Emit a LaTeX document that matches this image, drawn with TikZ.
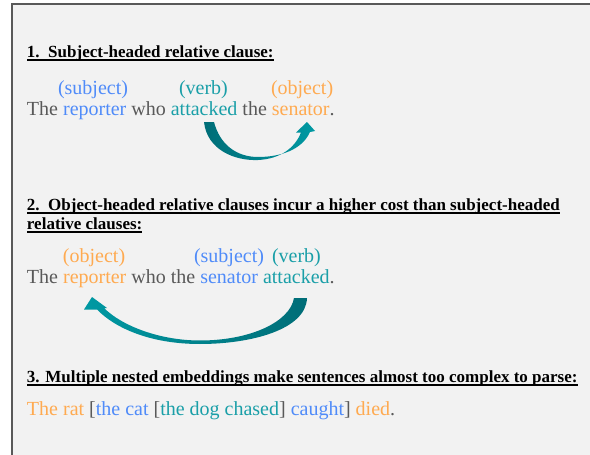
\documentclass[tikz,border=0pt]{standalone}
\usepackage{fontspec}
\setmainfont{Liberation Serif}
\definecolor{panel}{HTML}{F2F2F2}
\definecolor{framec}{HTML}{595959}
\definecolor{tgray}{HTML}{595959}
\definecolor{tblue}{HTML}{4F8BF9}
\definecolor{tteal}{HTML}{1A9FA8}
\definecolor{torange}{HTML}{FFAA50}
\definecolor{arrlight}{HTML}{0099A3}
\definecolor{arrdark}{HTML}{006D77}
\newcommand{\B}[1]{\textcolor{tblue}{#1}}
\newcommand{\T}[1]{\textcolor{tteal}{#1}}
\newcommand{\Or}[1]{\textcolor{torange}{#1}}
\begin{document}
\begin{tikzpicture}[x=1pt,y=-1pt,
  txt/.style={anchor=base west,inner sep=0pt,outer sep=0pt},
  head/.style={txt,font=\fontsize{17}{19}\selectfont\bfseries,text=black},
  sent/.style={txt,font=\fontsize{20}{22}\selectfont,text=tgray},
  lab/.style={txt,font=\fontsize{20}{22}\selectfont},
  uline/.style={line width=1.6pt,black},
  swoosh/.style={draw=none}]
\useasboundingbox (0,0) rectangle (590,455);
\fill[white] (0,0) rectangle (590,455);
\fill[panel] (11,3) rectangle (590,455);
\draw[framec,line width=2.4pt] (12.2,455) -- (12.2,4.2) -- (590,4.2);

% Section 1
\node[head] (h1) at (27,57.5) {1.\ \ Subject-headed relative clause:};
\draw[uline] ([yshift=-2.2pt]h1.base west) -- ([yshift=-2.2pt]h1.base east);
\node[lab,text=tblue] (l1s) at (58,94.5) {(subject)};
\node[lab,text=tteal] (l1v) at (179,94.5) {(verb)};
\node[lab,text=torange] (l1o) at (271,94.5) {(object)};
\node[sent] (s1) at (27,115) {The \B{reporter} who \T{attacked} the \Or{senator}.};
\shade[swoosh,left color=arrdark,right color=arrlight]
  (204,122) .. controls (207,150) and (235,161) .. (258,160)
  .. controls (280,159) and (295,148) .. (301,132.5)
  -- (296,132.5) -- (307,122) -- (315,131) -- (310,132)
  .. controls (302,150) and (280,157) .. (258,157)
  .. controls (237,157) and (220,145) .. (214,122) -- cycle;

% Section 2
\node[head] (h2a) at (27,210.5) {2.\ \ Object-headed relative clauses incur a higher cost than subject-headed};
\draw[uline] ([yshift=-2.2pt]h2a.base west) -- ([yshift=-2.2pt]h2a.base east);
\node[head] (h2b) at (27,229.5) {relative clauses:};
\draw[uline] ([yshift=-2.2pt]h2b.base west) -- ([yshift=-2.2pt]h2b.base east);
\node[lab,text=torange] (l2o) at (63,262) {(object)};
\node[lab,text=tblue] (l2s) at (194,262) {(subject)};
\node[lab,text=tteal] (l2v) at (272,262) {(verb)};
\node[sent] (s2) at (27,283) {The \Or{reporter} who the \B{senator} \T{attacked}.};
\shade[swoosh,left color=arrlight,right color=arrdark]
  (307,298) .. controls (306,330) and (250,344) .. (200,344)
  .. controls (150,344) and (115,328) .. (97,309.5)
  -- (84,309.5) -- (92,297) -- (107,308) -- (104,308)
  .. controls (122,326) and (160,340.5) .. (200,340.5)
  .. controls (250,340.5) and (290,322) .. (294,298) -- cycle;

% Section 3
\node[head] (h3) at (27,382.5) {3. Multiple nested embeddings make sentences almost too complex to parse:};
\draw[uline] ([yshift=-2.2pt]h3.base west) -- ([yshift=-2.2pt]h3.base east);
\node[sent] (s3) at (27,415) {\Or{The rat} [\B{the cat} [\T{the dog chased}] \B{caught}] \Or{died}.};
\end{tikzpicture}
\end{document}
